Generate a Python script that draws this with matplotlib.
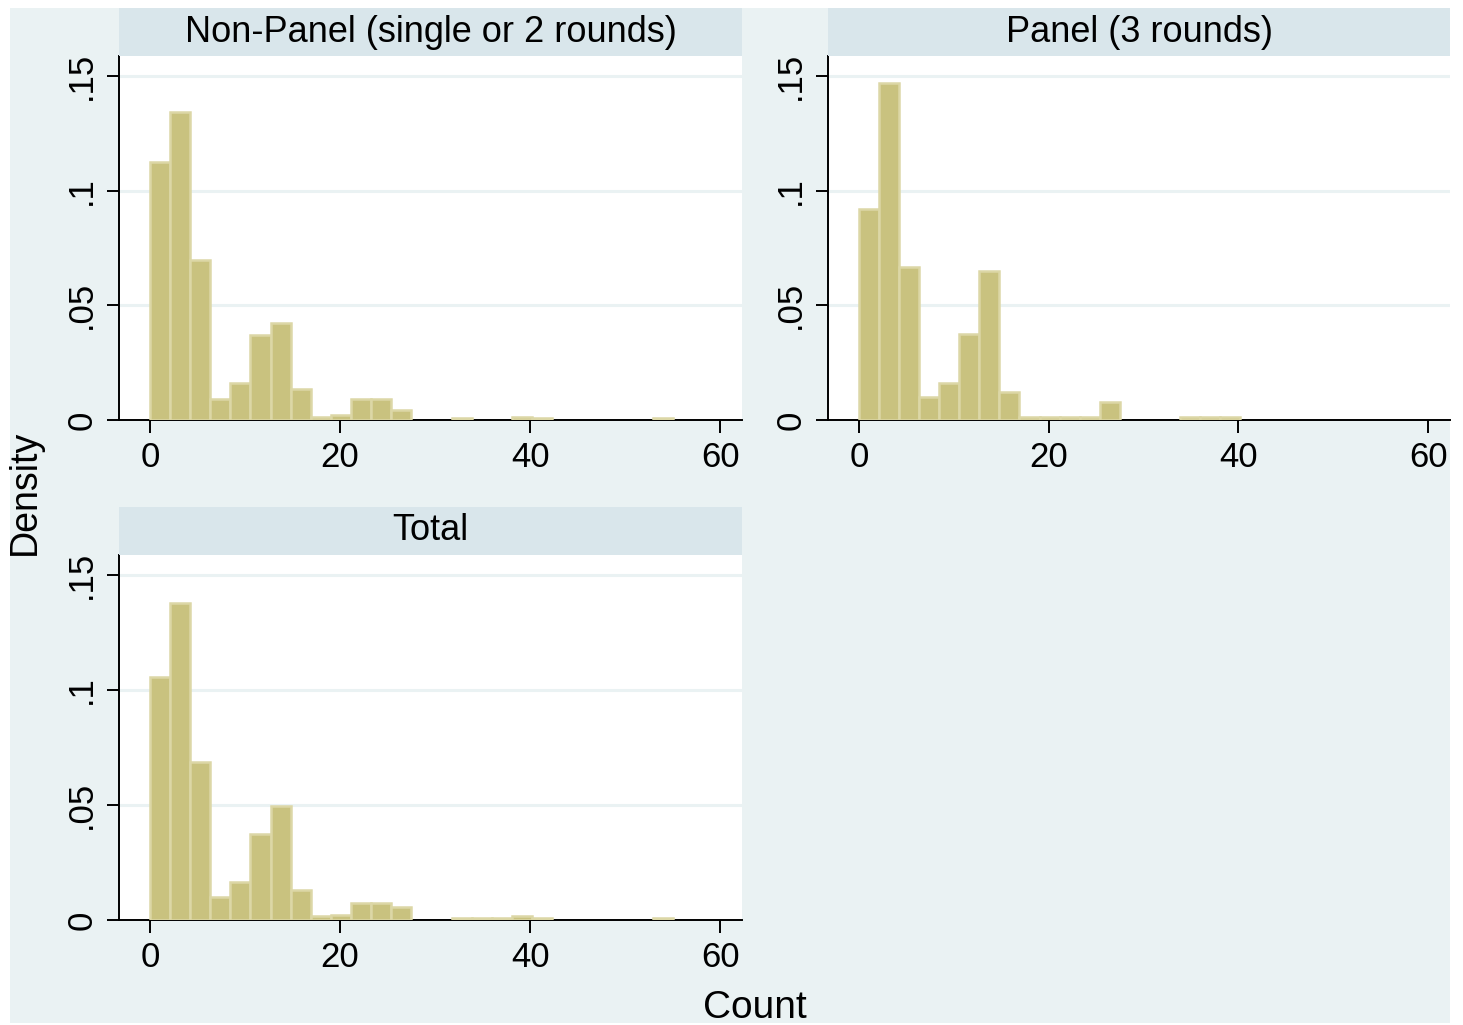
import numpy as np
import matplotlib.pyplot as plt
from matplotlib.patches import Rectangle

plt.rcParams['font.family'] = ['Liberation Sans', 'DejaVu Sans']

# histogram bins shared by all panels (0 .. 55, 26 bins)
bin_start = 0.0
bin_width = 55 / 26
n_bins = 26

titles = ["Non-Panel (single or 2 rounds)", "Panel (3 rounds)", "Total"]

# densities
nonpanel = [0.1125, 0.1345, 0.0698, 0.0093, 0.0163, 0.0370, 0.0421, 0.0133,
            0.0013, 0.0023, 0.0093, 0.0093, 0.0044, 0, 0, 0.0007, 0, 0,
            0.0015, 0.0007, 0, 0, 0, 0, 0, 0.0007]
panel3 = [0.0921, 0.1470, 0.0669, 0.0099, 0.0163, 0.0373, 0.0649, 0.0121,
          0.0015, 0.0015, 0.0015, 0.0015, 0.0080, 0, 0, 0, 0.0015, 0.0015,
          0.0015, 0, 0, 0, 0, 0, 0, 0]
total = [0.1058, 0.1380, 0.0688, 0.0099, 0.0165, 0.0372, 0.0494, 0.0132,
         0.0016, 0.0023, 0.0072, 0.0072, 0.0058, 0, 0, 0.0010, 0.0010, 0.0010,
         0.0019, 0.0010, 0, 0, 0, 0, 0, 0.0010]

yticks = [0, 0.05, 0.1, 0.15]
ytick_labels = ["0", ".05", ".1", ".15"]
xticks = [0, 20, 40, 60]

W, H = 1463, 1025
bg = '#EAF2F3'
strip_col = '#D9E6EB'
bar_fill = '#C9C27F'
bar_edge = '#DCD7A6'

fig = plt.figure(figsize=(W / 100, H / 100), dpi=100)
fig.patch.set_facecolor('white')
fig.patches.append(Rectangle((10 / W, 1 - 1023 / H), 1440 / W, 1015 / H,
                             transform=fig.transFigure, facecolor=bg,
                             edgecolor='none', zorder=-10))

# (left, right, strip top, plot top, plot bottom) in pixels
boxes = [(119, 742, 8, 56, 420), (828, 1450, 8, 56, 420), (119, 742, 507, 555, 920)]
data = [nonpanel, panel3, total]

edges = bin_start + bin_width * np.arange(n_bins)

for (l, r, st, pt, pb), vals, title in zip(boxes, data, titles):
    ax = fig.add_axes([l / W, 1 - pb / H, (r - l) / W, (pb - pt) / H])
    ax.set_facecolor('white')
    vals = np.array(vals)
    m = vals > 0
    ax.bar(edges[m], vals[m], width=bin_width, align='edge', color=bar_fill,
           edgecolor=bar_edge, linewidth=1.8, zorder=3)
    ax.set_xlim(-3.26, 62.3)
    ax.set_ylim(0, 0.1587)
    for y in yticks[1:]:
        ax.axhline(y, color=bg, linewidth=2.2, zorder=1)
    ax.set_yticks(yticks)
    ax.set_yticklabels(ytick_labels, rotation=90, va='center')
    ax.set_xticks(xticks)
    ax.tick_params(axis='both', labelsize=25, length=9, width=1.4, pad=6,
                   color='black')
    for s in ['top', 'right']:
        ax.spines[s].set_visible(False)
    for s in ['left', 'bottom']:
        ax.spines[s].set_linewidth(1.4)

    sax = fig.add_axes([l / W, 1 - pt / H, (r - l) / W, (pt - st) / H])
    sax.set_facecolor(strip_col)
    sax.set_xticks([])
    sax.set_yticks([])
    for s in sax.spines.values():
        s.set_visible(False)
    sax.text(0.5, 0.5, title, ha='center', va='center', fontsize=26,
             transform=sax.transAxes)

fig.text(25 / W, 1 - 492 / H, "Density", rotation=90, ha='center',
         va='center', fontsize=27)
fig.text(755 / W, 1 - 1008 / H, "Count", ha='center', va='center', fontsize=28)

fig.savefig('out.png', dpi=100, facecolor='white')
